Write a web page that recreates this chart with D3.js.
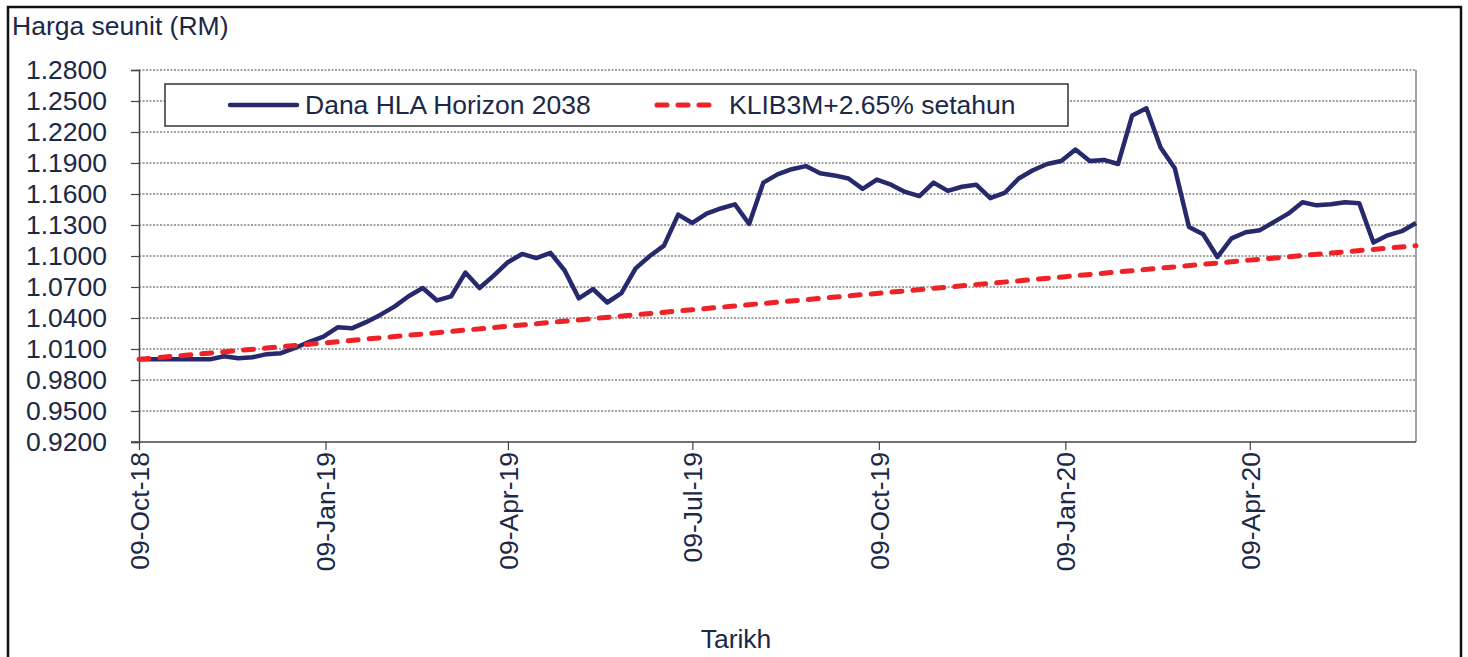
<!DOCTYPE html>
<html>
<head>
<meta charset="utf-8">
<script src="https://cdn.jsdelivr.net/npm/d3@7"></script>
<style>
    body { margin: 0; background: #fff; }
    text { font-family: "Liberation Sans", Arial, sans-serif; fill: #1b2846; }
</style>
</head>
<body>
<svg id="chart" width="1468" height="657"></svg>
<script>
// Data (weekly unit prices, RM)
var startDate = "2018-10-09";
var fundValues = [
    1.000, 1.000, 1.000, 1.000, 1.000, 1.000, 1.003, 1.001, 1.002, 1.005,
    1.006, 1.011, 1.017, 1.022, 1.031, 1.030, 1.036, 1.043, 1.051, 1.061,
    1.069, 1.057, 1.061, 1.084, 1.069, 1.081, 1.094, 1.102, 1.098, 1.103,
    1.086, 1.059, 1.068, 1.055, 1.064, 1.088, 1.100, 1.110, 1.140, 1.132,
    1.141, 1.146, 1.150, 1.131, 1.171, 1.179, 1.184, 1.187, 1.180, 1.178,
    1.175, 1.165, 1.174, 1.169, 1.162, 1.158, 1.171, 1.163, 1.167, 1.169,
    1.156, 1.161, 1.175, 1.183, 1.189, 1.192, 1.203, 1.192, 1.193, 1.189,
    1.236, 1.243, 1.205, 1.185, 1.128, 1.121, 1.099, 1.117, 1.123, 1.125,
    1.133, 1.141, 1.152, 1.149, 1.150, 1.152, 1.151, 1.113, 1.120, 1.124,
    1.132
];
var endDate = "2020-06-30";
var benchDates = ["2018-10-09", "2019-01-09", "2019-04-09", "2019-07-09",
                  "2019-10-09", "2020-01-09", "2020-04-09", "2020-06-30"];
var benchValues = [1.000, 1.016, 1.032, 1.048, 1.064, 1.080, 1.096, 1.110];
var xTickDates = ["2018-10-09", "2019-01-09", "2019-04-09", "2019-07-09",
                  "2019-10-09", "2020-01-09", "2020-04-09"];
var yTicks = [0.92, 0.95, 0.98, 1.01, 1.04, 1.07, 1.10, 1.13, 1.16, 1.19, 1.22, 1.25, 1.28];
var seriesNames = ["Dana HLA Horizon 2038", "KLIB3M+2.65% setahun"];

var fontSize = "26.5px";
var navy = "#262a6d", red = "#ee2227";

var parseDate = d3.timeParse("%Y-%m-%d");
var fmtDate = d3.timeFormat("%d-%b-%y");

// weekly dates for the fund series
var fundData = fundValues.map(function (v, i) {
    return { date: d3.timeDay.offset(parseDate(startDate), 7 * i), value: v };
});
var benchData = benchValues.map(function (v, i) {
    return { date: parseDate(benchDates[i]), value: v };
});

// plot area
var plotLeft = 139, plotRight = 1416, plotTop = 70, plotBottom = 442;

var x = d3.scaleTime()
    .domain([parseDate(startDate), parseDate(endDate)])
    .range([plotLeft, plotRight]);
var y = d3.scaleLinear()
    .domain([0.92, 1.28])
    .range([plotBottom, plotTop]);

var svg = d3.select("#chart");

// outer frame
svg.append("rect")
    .attr("x", 8).attr("y", 7)
    .attr("width", 1453).attr("height", 670)
    .attr("fill", "none")
    .attr("stroke", "#111")
    .attr("stroke-width", 2.5);

// gridlines
svg.append("g")
    .selectAll("line")
    .data(yTicks.slice(1))
    .enter()
    .append("line")
    .attr("x1", plotLeft).attr("x2", plotRight)
    .attr("y1", function (d) { return y(d); })
    .attr("y2", function (d) { return y(d); })
    .attr("stroke", "#444")
    .attr("stroke-width", 1)
    .attr("stroke-dasharray", "2,1.5");

// right border of the plot area
svg.append("line")
    .attr("x1", plotRight).attr("x2", plotRight)
    .attr("y1", plotTop).attr("y2", plotBottom)
    .attr("stroke", "#666")
    .attr("stroke-width", 1.2);

// y axis
var yAxis = svg.append("g")
    .attr("transform", "translate(" + plotLeft + ",0)")
    .call(d3.axisLeft(y)
        .tickValues(yTicks)
        .tickSize(8)
        .tickPadding(24)
        .tickFormat(d3.format(".4f")));

// x axis
var xAxis = svg.append("g")
    .attr("transform", "translate(0," + plotBottom + ")")
    .call(d3.axisBottom(x)
        .tickValues(xTickDates.map(parseDate))
        .tickSize(8)
        .tickFormat(fmtDate));

[yAxis, xAxis].forEach(function (ax) {
    ax.select(".domain").attr("stroke", "#444").attr("stroke-width", 1.5);
    ax.selectAll(".tick line").attr("stroke", "#444").attr("stroke-width", 1.2);
    ax.selectAll("text")
        .style("font-size", fontSize)
        .style("font-family", "'Liberation Sans', Arial, sans-serif")
        .attr("fill", "#1b2846");
});
// x axis line pokes out a little on the left, like the reference
xAxis.select(".domain").attr("d", "M" + (plotLeft - 8) + ",0H" + plotRight);

xAxis.selectAll(".tick text")
    .attr("text-anchor", "end")
    .attr("dy", "0.35em")
    .attr("transform", "translate(0,10) rotate(-90)")
    .attr("x", 0)
    .attr("y", 0);

// fund line
var line = d3.line()
    .x(function (d) { return x(d.date); })
    .y(function (d) { return y(d.value); });

svg.append("path")
    .datum(fundData)
    .attr("d", line)
    .attr("fill", "none")
    .attr("stroke", navy)
    .attr("stroke-width", 4.5)
    .attr("stroke-linejoin", "round");

// benchmark line
svg.append("path")
    .datum(benchData)
    .attr("d", line)
    .attr("fill", "none")
    .attr("stroke", red)
    .attr("stroke-width", 5)
    .attr("stroke-linecap", "round")
    .attr("stroke-dasharray", "10,11");

// legend
var legend = svg.append("g");
legend.append("rect")
    .attr("x", 165).attr("y", 84)
    .attr("width", 903).attr("height", 42)
    .attr("fill", "#fff")
    .attr("stroke", "#333")
    .attr("stroke-width", 1.5);
legend.append("line")
    .attr("x1", 230).attr("x2", 297)
    .attr("y1", 105).attr("y2", 105)
    .attr("stroke", navy)
    .attr("stroke-width", 4.5)
    .attr("stroke-linecap", "round");
legend.append("text")
    .attr("x", 305).attr("y", 114)
    .style("font-size", fontSize)
    .text(seriesNames[0]);
legend.append("line")
    .attr("x1", 657).attr("x2", 720)
    .attr("y1", 105).attr("y2", 105)
    .attr("stroke", red)
    .attr("stroke-width", 5)
    .attr("stroke-linecap", "round")
    .attr("stroke-dasharray", "10,11");
legend.append("text")
    .attr("x", 729).attr("y", 114)
    .style("font-size", fontSize)
    .text(seriesNames[1]);

// titles
svg.append("text")
    .attr("x", 12).attr("y", 35)
    .style("font-size", fontSize)
    .text("Harga seunit (RM)");
svg.append("text")
    .attr("x", 736).attr("y", 648)
    .attr("text-anchor", "middle")
    .style("font-size", fontSize)
    .text("Tarikh");
</script>
</body>
</html>
